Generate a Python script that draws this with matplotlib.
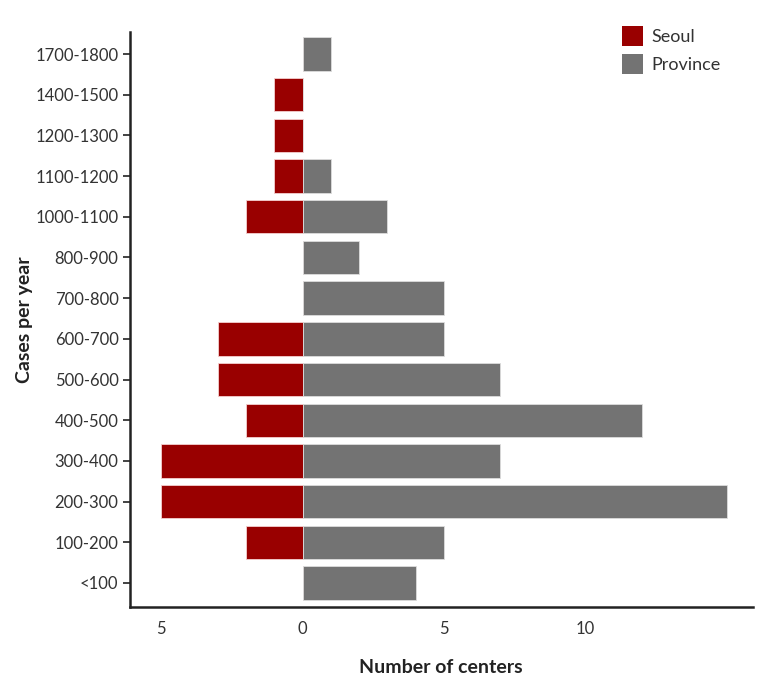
import numpy as np
import matplotlib.pyplot as plt
from matplotlib.patches import Patch

categories = ['<100', '100-200', '200-300', '300-400', '400-500', '500-600', '600-700',
              '700-800', '800-900', '1000-1100', '1100-1200', '1200-1300', '1400-1500', '1700-1800']
seoul = [0, 2, 5, 5, 2, 3, 3, 0, 0, 2, 1, 1, 1, 0]
province = [4, 5, 15, 7, 12, 7, 5, 5, 2, 3, 1, 0, 0, 1]
xticks = [-5, 0, 5, 10]
xticklabels = ['5', '0', '5', '10']

red = '#990000'
gray = '#737373'

plt.rcParams['font.family'] = ['Lato', 'DejaVu Sans']

fig = plt.figure(figsize=(7.81, 6.82), dpi=100)
ax = fig.add_axes([0.166, 0.110, 0.798, 0.843])

y = np.arange(len(categories))
ax.barh(y, [-v for v in seoul], height=0.82, color=red, edgecolor='#f4d0d0', linewidth=0.6)
ax.barh(y, province, height=0.82, color=gray, edgecolor='#dddddd', linewidth=0.6)

ax.set_xlim(-6.12, 15.93)
ax.set_ylim(-0.59, 13.54)
ax.set_yticks(y)
ax.set_yticklabels(categories, fontsize=12, color='#333333')
ax.set_xticks(xticks)
ax.set_xticklabels(xticklabels, fontsize=12, color='#333333')
ax.tick_params(axis='x', length=0, pad=10)
ax.tick_params(axis='y', length=5, width=1.2, color='#222222', pad=3)

for s in ['top', 'right']:
    ax.spines[s].set_visible(False)
for s in ['left', 'bottom']:
    ax.spines[s].set_linewidth(1.8)
    ax.spines[s].set_color('#222222')

ax.set_xlabel('Number of centers', fontsize=14, fontweight='bold', color='#222222', labelpad=16)
ax.set_ylabel('Cases per year', fontsize=14, fontweight='bold', color='#222222', labelpad=2)

handles = [Patch(facecolor=red, label='Seoul'), Patch(facecolor=gray, label='Province')]
leg = ax.legend(handles=handles, loc='upper right', bbox_to_anchor=(0.975, 1.038), frameon=False,
                fontsize=13, handlelength=1.15, handleheight=1.3, handletextpad=0.5, labelspacing=0.45)
for t in leg.get_texts():
    t.set_color('#333333')

fig.savefig('out.png', dpi=100)
